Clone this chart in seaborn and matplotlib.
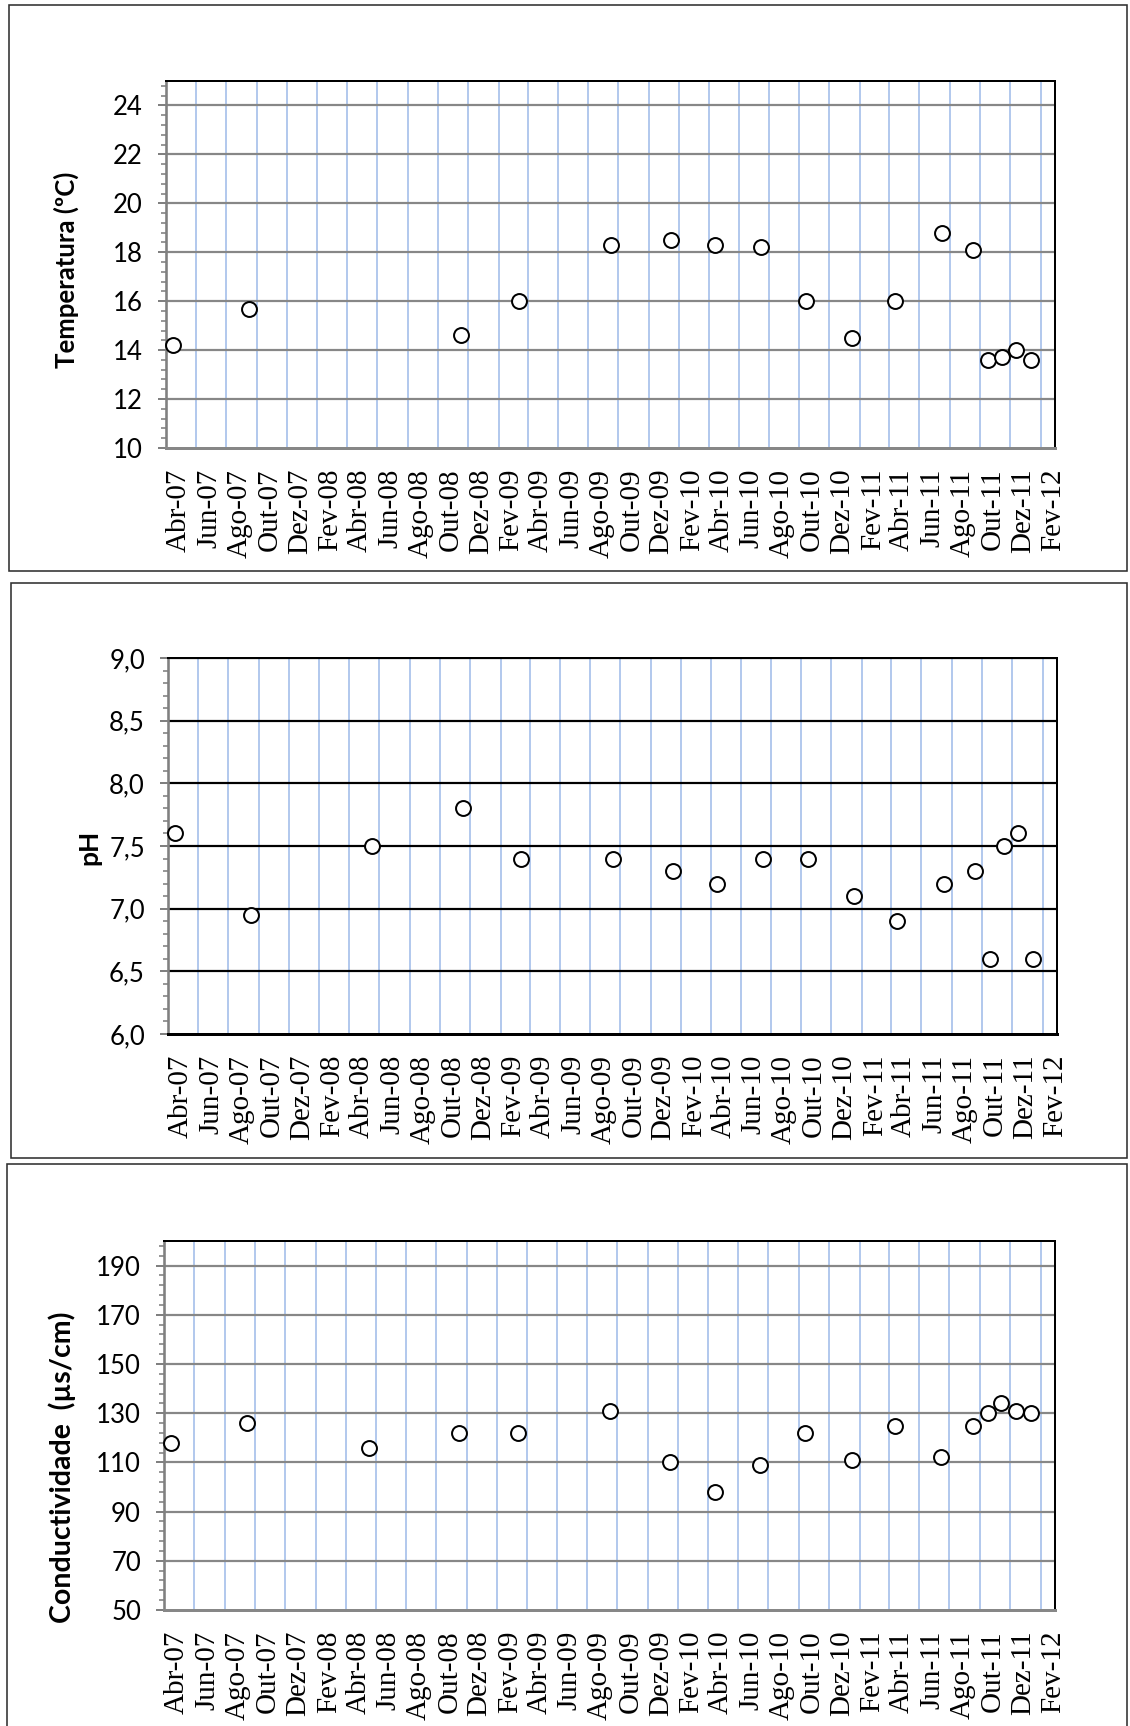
import numpy as np
import pandas as pd
import matplotlib
matplotlib.use("Agg")
import matplotlib.pyplot as plt
from matplotlib.patches import Rectangle
import seaborn as sns

# ---------------- data ----------------
sample_dates = ["2007-04-16", "2007-09-16", "2008-05-18", "2008-11-16", "2009-03-15",
                "2009-09-15", "2010-01-15", "2010-04-15", "2010-07-16", "2010-10-14",
                "2011-01-16", "2011-04-13", "2011-07-16", "2011-09-17", "2011-10-17",
                "2011-11-14", "2011-12-13", "2012-01-13"]
temperatura = [14.2, 15.7, np.nan, 14.6, 16.0, 18.3, 18.5, 18.3, 18.2, 16.0,
               14.5, 16.0, 18.8, 18.1, 13.6, 13.7, 14.0, 13.6]
ph = [7.6, 6.95, 7.5, 7.8, 7.4, 7.4, 7.3, 7.2, 7.4, 7.4,
      7.1, 6.9, 7.2, 7.3, 6.6, 7.5, 7.6, 6.6]
conductividade = [118, 126, 116, 122, 122, 131, 110, 98, 109, 122,
                  111, 125, 112, 125, 130, 134, 131, 130]

x_tick_labels = ["Abr-07", "Jun-07", "Ago-07", "Out-07", "Dez-07",
                 "Fev-08", "Abr-08", "Jun-08", "Ago-08", "Out-08", "Dez-08",
                 "Fev-09", "Abr-09", "Jun-09", "Ago-09", "Out-09", "Dez-09",
                 "Fev-10", "Abr-10", "Jun-10", "Ago-10", "Out-10", "Dez-10",
                 "Fev-11", "Abr-11", "Jun-11", "Ago-11", "Out-11", "Dez-11",
                 "Fev-12"]
x_start, x_end = "2007-04-01", "2012-03-01"

temp_ticks = [10, 12, 14, 16, 18, 20, 22, 24]
temp_ticklabels = ["10", "12", "14", "16", "18", "20", "22", "24"]
ph_ticks = [6.0, 6.5, 7.0, 7.5, 8.0, 8.5, 9.0]
ph_ticklabels = ["6,0", "6,5", "7,0", "7,5", "8,0", "8,5", "9,0"]
cond_ticks = [50, 70, 90, 110, 130, 150, 170, 190]
cond_ticklabels = ["50", "70", "90", "110", "130", "150", "170", "190"]

df = pd.DataFrame({"data": pd.to_datetime(sample_dates),
                   "temperatura": temperatura, "ph": ph,
                   "conductividade": conductividade})

# ---------------- style ----------------
sns.set_theme(style="white")
plt.rcParams["font.family"] = ["Lato", "DejaVu Sans"]

W, H = 1130, 1726
fig = plt.figure(figsize=(W / 100, H / 100), dpi=100)


def rect(l, t, r, b):
    return [l / W, 1 - b / H, (r - l) / W, (b - t) / H]


px = 72 / 100  # points per pixel

panels = [
    dict(col="temperatura", label="Temperatura (ºC)", box=(9, 5.5, 1127, 571),
         ax=(166, 81, 1055, 448), ylim=(10, 25), ticks=temp_ticks,
         ticklabels=temp_ticklabels, minor=0.4, hgrid="#878787",
         bottom="#878787", labelpos=(-0.112, 0.485), labelsize=18.5),
    dict(col="ph", label="pH", box=(11, 583, 1127, 1157.5),
         ax=(168, 658, 1057, 1034), ylim=(6, 9), ticks=ph_ticks,
         ticklabels=ph_ticklabels, minor=0.1, hgrid="#000000",
         bottom="#000000", labelpos=(-0.088, 0.497), labelsize=19),
    dict(col="conductividade", label="Conductividade  (µs/cm)", box=(7, 1164, 1127, 1735),
         ax=(164, 1241, 1055, 1610), ylim=(50, 200), ticks=cond_ticks,
         ticklabels=cond_ticklabels, minor=4, hgrid="#878787",
         bottom="#878787", labelpos=(-0.114, 0.388), labelsize=20.5),
]

tick_dates = pd.date_range(x_start, "2012-02-01", freq="2MS")

for p in panels:
    # panel frame
    l, t, r, b = p["box"]
    fig.patches.append(Rectangle((l / W, 1 - b / H), (r - l) / W, (b - t) / H,
                                 transform=fig.transFigure, fill=False,
                                 edgecolor="#303030", linewidth=1.6 * px, zorder=0))
    ax = fig.add_axes(rect(*p["ax"]))
    sns.scatterplot(data=df, x="data", y=p["col"], ax=ax, marker="o", s=115,
                    facecolor="white", edgecolor="black", linewidth=2.0 * px,
                    zorder=5, clip_on=False, legend=False)

    ax.set_xlim(pd.Timestamp(x_start), pd.Timestamp(x_end))
    ax.set_ylim(*p["ylim"])

    # x axis
    ax.set_xticks(tick_dates)
    ax.set_xticklabels(x_tick_labels, rotation=90, ha="left",
                       family=["Liberation Serif", "DejaVu Serif"],
                       fontsize=21, color="black")
    ax.tick_params(axis="x", length=0, pad=15)

    # y axis
    ax.set_yticks(p["ticks"])
    ax.set_yticklabels(p["ticklabels"], fontsize=18.5, color="black")
    lo, hi = p["ylim"]
    minors = np.arange(lo, hi + 1e-9, p["minor"])
    ax.set_yticks(minors, minor=True)
    ax.tick_params(axis="y", which="major", direction="out", length=8 * px,
                   width=2 * px, color="#808080", pad=15 * px, left=True)
    ax.tick_params(axis="y", which="minor", direction="out", length=5 * px,
                   width=1.6 * px, color="#808080", left=True)

    # grids
    ax.grid(False)
    for d in tick_dates[1:]:
        ax.axvline(d, color="#a6c0ea", linewidth=1.7 * px, zorder=1)
    for yv in p["ticks"][1:]:
        ax.axhline(yv, color=p["hgrid"], linewidth=2.2 * px, zorder=2)

    # spines
    ax.spines["left"].set_color("#808080")
    ax.spines["left"].set_linewidth(2.6 * px)
    ax.spines["bottom"].set_color(p["bottom"])
    ax.spines["bottom"].set_linewidth(3.0 * px)
    ax.spines["top"].set_color("black")
    ax.spines["top"].set_linewidth(2.0 * px)
    ax.spines["right"].set_color("black")
    ax.spines["right"].set_linewidth(2.0 * px)
    for s in ax.spines.values():
        s.set_zorder(3)

    ax.set_xlabel("")
    ax.set_ylabel(p["label"], fontsize=p["labelsize"], fontweight="bold", color="black")
    ax.yaxis.label.set_verticalalignment("center")
    ax.yaxis.set_label_coords(*p["labelpos"])

fig.savefig("out.png", dpi=100, facecolor="white")
